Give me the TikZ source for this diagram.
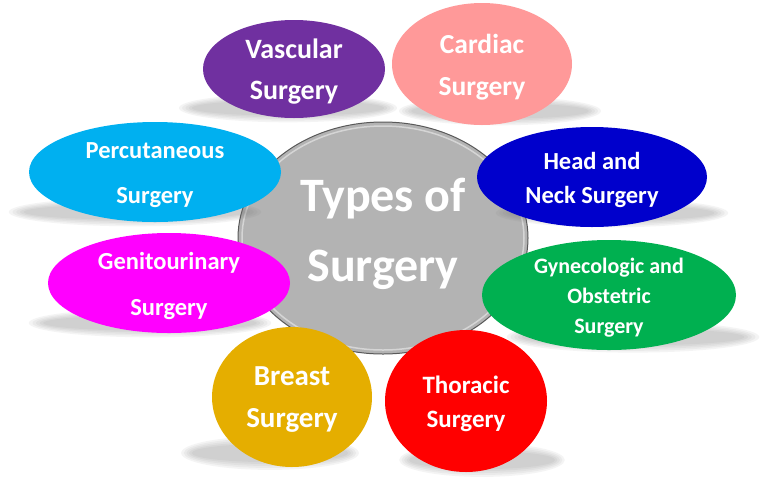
\documentclass[tikz,border=0pt]{standalone}
\usepackage{fontspec}
\setmainfont{Carlito}
\usetikzlibrary{shapes.geometric}

\definecolor{vascular}{HTML}{7030A0}
\definecolor{cardiac}{HTML}{FF9999}
\definecolor{percut}{HTML}{00B0F0}
\definecolor{genito}{HTML}{FF00FF}
\definecolor{headneck}{HTML}{0000CC}
\definecolor{gyneco}{HTML}{00B050}
\definecolor{breast}{HTML}{E5AE00}
\definecolor{thoracic}{HTML}{FF0000}
\definecolor{hubgray}{HTML}{B3B3B3}

\tikzset{
  blob/.style={ellipse, inner sep=0pt},
  btext/.style={text=white, align=center, yshift=-3pt,
    font=\bfseries\fontsize{#1}{#1}\selectfont},
  bsize/.style n args={3}{minimum width=#1pt, minimum height=#2pt, fill=#3},
}

\begin{document}
\begin{tikzpicture}[x=1pt, y={(0pt,-1pt)}]
\useasboundingbox (0,0) rectangle (768,483);

% Hub
\node[ellipse, minimum width=290pt, minimum height=232pt, fill=hubgray,
  draw=black!65, line width=1pt] (hub) at (383,238) {};
\draw[white, opacity=0.45, line width=1.5pt] (hub.center) ellipse (141pt and 112pt);

% Shadows: x, y, rx, ry
\foreach \sx/\sy/\srx/\sry in {
  288/108/108/11, 500/111/100/11,
  135/212/125/11, 150/323/120/11,
  612/213/115/11, 633/337/125/12,
  270/453/88/13, 482/460/82/13}{
  \foreach \k in {1.3,1.15,1,0.85,0.7}{
    \fill[black!55, opacity=0.08] (\sx,\sy) ellipse ({\srx*(0.75+0.2*\k)} and {\sry*\k});
  }
}

% Surgery types
\node[blob, bsize={182}{98}{vascular},
  label={[btext=28]center:Vascular\\[13pt]Surgery}] (vasc) at (294,69) {};
\node[blob, bsize={180}{122}{cardiac},
  label={[btext=27.5]center:Cardiac\\[15pt]Surgery}] (card) at (482,64) {};
\node[blob, bsize={252}{100}{percut},
  label={[btext=24.5]center:Percutaneous\\[21pt]Surgery}] (perc) at (155,172) {};
\node[blob, bsize={242}{100}{genito},
  label={[btext=24.5]center:Genitourinary\\[22pt]Surgery}] (geni) at (169,283) {};
\node[blob, bsize={230}{100}{headneck},
  label={[btext=24.5]center:Head and\\[9pt]Neck Surgery}] (head) at (592,177) {};
\node[blob, bsize={254}{110}{gyneco},
  label={[btext=22]center:Gynecologic and\\[8pt]Obstetric\\[8pt]Surgery}] (gyne) at (609,295) {};
\node[blob, bsize={160}{140}{breast},
  label={[btext=29]center:Breast\\[13pt]Surgery}] (brst) at (292,397) {};
\node[blob, bsize={162}{142}{thoracic},
  label={[btext=25]center:Thoracic\\[9pt]Surgery}] (thor) at (466,401) {};

% Hub label
\node[text=white, align=center, font=\bfseries\fontsize{48}{48}\selectfont,
  yshift=4pt] (title) at (hub.center) {Types of\\[22pt]Surgery};
\end{tikzpicture}
\end{document}
